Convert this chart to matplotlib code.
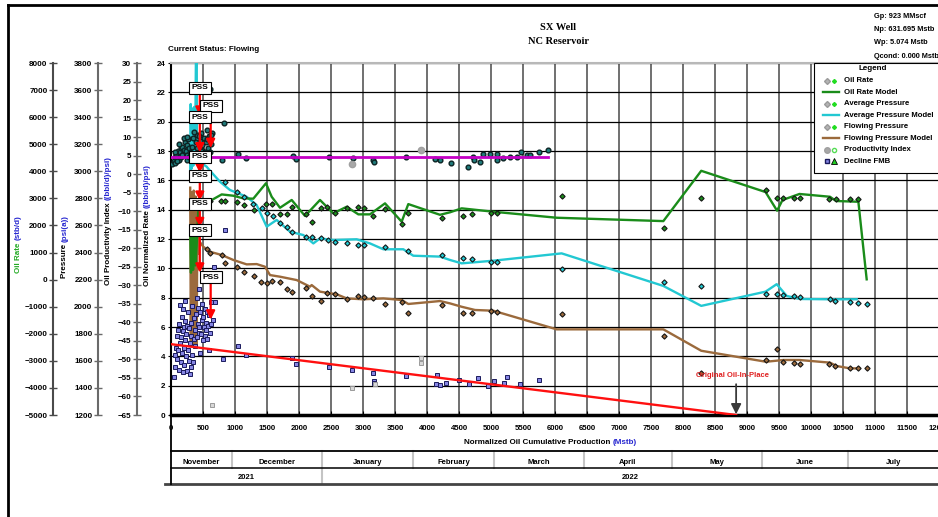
import numpy as np
import matplotlib
matplotlib.use("agg")
import matplotlib.pyplot as plt
from matplotlib.lines import Line2D
from matplotlib.patches import Rectangle

plt.rcParams['font.family'] = ['Liberation Sans', 'DejaVu Sans']
plt.rcParams['font.weight'] = 'bold'

W, H = 938, 517


def fx(px):
    return px / W


def fy(py):
    return 1 - py / H


# ---- series (x = normalized cumulative oil, Mstb ; y = normalized rate) ----
rate_model = [(300, 12.9), (312, 9.7), (328, 12.6), (345, 9.9), (362, 12.3), (380, 10.2),
              (400, 11.5), (425, 13.8), (453, 14.66), (609, 14.59), (792, 15.04), (974, 14.95),
              (1130, 14.77), (1286, 14.75), (1484, 15.8), (1573, 14.88), (1703, 14.13),
              (1886, 14.66), (2094, 13.57), (2328, 14.66), (2536, 13.75), (2745, 14.2),
              (2927, 13.68), (3109, 13.68), (3344, 14.43), (3604, 13.18), (3708, 14.38),
              (4203, 13.65), (4359, 13.82), (4542, 14.09), (5036, 13.86), (6026, 13.45),
              (7693, 13.22), (8285, 16.65), (9290, 15.2), (9470, 13.93), (9555, 14.66),
              (9820, 15.07), (10297, 14.88), (10391, 14.59), (10740, 14.54), (10870, 9.25)]

pavg_model = [(300, 16.6), (308, 21.2), (322, 16.8), (334, 20.9), (348, 17.0), (362, 21.0),
              (376, 17.3), (390, 24.6), (402, 24.6), (405, 17.3), (450, 17.2), (500, 17.1),
              (557, 16.93), (581, 16.8), (766, 15.9), (922, 15.34), (1182, 14.88), (1339, 14.31),
              (1495, 12.84), (1651, 13.3), (1859, 12.5), (2067, 12.27), (2224, 11.7),
              (2328, 12.04), (2536, 11.93), (2901, 11.98), (3109, 11.7), (3318, 11.3),
              (3630, 11.3), (3786, 10.86), (4203, 10.8), (4359, 10.57), (4542, 10.34),
              (5036, 10.52), (6104, 11.02), (7693, 8.8), (8285, 7.44), (9290, 8.41),
              (9464, 8.92), (9620, 8.12), (9828, 7.91), (10297, 7.89), (10714, 7.89)]

pwf_model = [(300, 15.5), (310, 5.0), (325, 15.2), (340, 4.8), (355, 15.3), (370, 4.7),
             (385, 14.9), (400, 4.6), (415, 14.6), (430, 11.0), (450, 11.8), (505, 11.47),
             (609, 11.13), (792, 10.91), (974, 10.57), (1182, 10.27), (1339, 10.29),
             (1469, 10.11), (1547, 9.54), (1703, 9.43), (1964, 9.2), (2172, 8.75),
             (2198, 8.86), (2328, 8.41), (2589, 8.23), (2745, 7.95), (3005, 7.89),
             (3318, 7.95), (3604, 7.84), (3708, 7.57), (4203, 7.77), (4359, 7.61),
             (4542, 7.38), (4750, 7.16), (5036, 7.11), (6026, 5.84), (7693, 5.84),
             (8285, 4.38), (9297, 3.63), (9568, 3.75), (9818, 3.75), (10297, 3.57),
             (10401, 3.34), (10609, 3.18), (10740, 3.18)]

rate_pts = [(470, 14.6), (609, 14.59), (776, 14.61), (844, 14.59), (1026, 14.54), (1146, 14.31),
            (1302, 13.97), (1484, 14.42), (1573, 14.42), (1703, 13.7), (1808, 13.7),
            (1895, 14.2), (2109, 13.68), (2208, 13.13), (2344, 14.13), (2432, 14.2),
            (2563, 13.74), (2745, 14.13), (2927, 14.2), (3021, 14.13), (3161, 13.59),
            (3344, 14.04), (3615, 13.02), (3708, 13.74), (4229, 13.41), (4567, 13.56),
            (4708, 13.7), (5000, 13.79), (5089, 13.74), (6115, 14.93), (7708, 12.72),
            (8281, 14.77), (9297, 15.34), (9464, 14.82), (9568, 14.82), (9740, 14.82),
            (9828, 14.82), (10286, 14.7), (10391, 14.7), (10609, 14.72), (10740, 14.72)]

pavg_pts = [(844, 15.9), (1026, 15.22), (1146, 14.88), (1286, 14.42), (1417, 14.09),
            (1495, 13.74), (1589, 13.56), (1703, 13.11), (1808, 12.84), (1895, 12.5),
            (2109, 12.16), (2208, 12.11), (2344, 12.04), (2458, 11.93), (2563, 11.81),
            (2745, 11.74), (2927, 11.59), (3021, 11.59), (3344, 11.43), (3708, 11.18),
            (4229, 10.91), (4567, 10.68), (4708, 10.63), (5000, 10.45), (5089, 10.41),
            (6115, 9.95), (7708, 9.09), (8281, 8.79), (9297, 8.27), (9464, 8.23),
            (9568, 8.18), (9740, 8.11), (9828, 8.07), (10297, 7.89), (10375, 7.77),
            (10609, 7.68), (10740, 7.61), (10870, 7.57)]

pwf_pts = [(557, 11.29), (609, 11.06), (792, 10.91), (844, 10.34), (1026, 10.11), (1146, 9.77),
           (1302, 9.48), (1406, 9.09), (1495, 9.02), (1583, 9.16), (1703, 9.09), (1808, 8.57),
           (1895, 8.41), (2109, 8.64), (2208, 8.13), (2344, 7.77), (2432, 8.3), (2570, 8.25),
           (2745, 7.89), (2927, 8.13), (3021, 8.02), (3161, 7.95), (3344, 7.55), (3615, 7.72),
           (3708, 6.97), (4239, 7.5), (4567, 6.97), (4708, 6.93), (5000, 7.09), (5089, 7.04),
           (6115, 6.88), (7703, 5.39), (8281, 2.84), (9297, 3.75), (9464, 4.48), (9568, 3.63),
           (9740, 3.57), (9828, 3.45), (10286, 3.45), (10375, 3.34), (10609, 3.23),
           (10740, 3.23), (10870, 3.23)]

pi_pts = [(20, 17.1), (40, 17.3), (55, 17.6), (70, 17.2), (85, 17.8), (100, 17.5), (110, 18.0),
          (120, 17.4), (135, 17.9), (150, 18.2), (160, 17.6), (175, 18.3), (190, 17.8),
          (200, 18.1), (215, 18.6), (230, 18.0), (245, 18.4), (255, 17.7), (270, 18.8),
          (285, 18.2), (300, 17.9), (60, 17.9), (90, 17.3), (130, 18.5), (170, 17.7),
          (210, 18.9), (250, 17.4), (280, 17.6), (330, 18.3), (350, 18.9), (370, 17.8),
          (390, 18.6), (410, 19.1), (430, 18.0), (450, 18.7), (470, 19.2), (490, 18.4),
          (510, 18.9), (530, 17.9), (545, 18.6), (560, 19.4), (580, 18.2), (600, 19.0),
          (620, 18.5), (640, 19.2), (360, 19.3), (400, 18.2), (440, 19.0), (480, 18.1),
          (520, 17.6), (565, 18.8), (605, 17.9), (630, 19.1), (250, 18.95), (470, 18.0),
          (828, 19.9), (609, 22.2), (797, 17.4), (1042, 17.8), (1172, 17.55), (1901, 17.65),
          (1948, 17.47), (2474, 17.57), (2839, 17.54), (3161, 17.38), (3177, 17.22),
          (3667, 17.57), (4125, 17.45), (4203, 17.38), (4375, 17.2), (4645, 16.93),
          (4714, 17.6), (4739, 17.38), (4828, 17.27), (4880, 17.79), (4984, 17.77),
          (5098, 17.77), (5098, 17.38), (5193, 17.5), (5297, 17.6), (5401, 17.6),
          (5474, 17.9), (5557, 17.7), (5609, 17.7), (5755, 17.95), (5896, 18.1)]
pi_grey = [(2828, 17.1), (3901, 18.1)]
pi_level = 17.6
pi_span = (0, 5890)

fmb_pts = [(47, 2.6), (60, 3.3), (70, 4.1), (80, 4.6), (90, 5.4), (95, 3.8), (105, 4.4),
           (110, 5.8), (120, 6.2), (125, 3.1), (135, 4.9), (140, 7.5), (150, 5.3), (155, 3.6),
           (165, 6.7), (170, 4.2), (180, 5.7), (187, 7.2), (190, 2.9), (200, 6.0), (205, 4.6),
           (210, 3.4), (215, 6.4), (219, 5.1), (225, 7.8), (230, 4.0), (240, 5.5), (250, 3.0),
           (255, 6.1), (265, 4.4), (270, 7.0), (280, 3.7), (285, 5.9), (295, 2.8), (300, 4.9),
           (310, 6.3), (315, 3.3), (320, 5.4), (330, 4.1), (335, 7.4), (345, 3.6), (355, 5.2),
           (360, 6.6), (370, 4.7), (380, 5.8), (390, 6.9), (400, 8.0), (405, 5.3), (415, 6.2),
           (420, 7.3), (430, 5.6), (440, 8.6), (445, 6.0), (455, 7.0), (460, 4.2), (470, 5.5),
           (480, 6.5), (490, 7.6), (500, 5.1), (505, 6.7), (515, 6.0), (525, 7.2), (530, 5.4),
           (540, 6.3), (550, 5.8), (560, 7.0), (570, 5.2), (580, 6.1), (590, 4.4), (600, 6.8),
           (610, 5.6), (620, 7.7), (630, 6.2), (650, 6.5), (677, 10.1), (688, 7.72),
           (808, 3.8), (844, 12.6), (1042, 4.7), (1167, 4.1), (1895, 3.9), (1948, 3.5),
           (2469, 3.3), (2833, 3.1), (3161, 2.85), (3172, 2.35), (3172, 2.2), (3667, 2.66),
           (4161, 2.75), (4136, 2.1), (4203, 2.05), (4300, 2.2), (4500, 2.4), (4650, 2.1),
           (4800, 2.5), (4950, 2.0), (5050, 2.3), (5200, 2.2), (5250, 2.6), (5450, 2.1),
           (5750, 2.4)]
fmb_grey = [(635, 0.68), (2823, 1.86), (3188, 2.09), (3901, 3.91), (3906, 3.57)]
fmb_line = [(0, 4.83), (8830, 0.0)]
ooip = 8830

pss_x = [450, 620, 450, 450, 450, 450, 450, 620]
pss_y = [22.3, 21.1, 20.3, 17.6, 16.3, 14.4, 12.6, 9.4]
pss_end = [20.4, 18.2, 17.9, 16.5, 14.6, 12.8, 9.7, 6.5]

month_edges = [0, 953, 2359, 3781, 5047, 6453, 7828, 9234, 10578, 12000]
months = ['November', 'December', 'January', 'February', 'March', 'April', 'May', 'June', 'July']
year_edges = [0, 2359, 12000]
years = ['2021', '2022']

GREEN = '#1a8c1a'
CYAN = '#22c8d2'
BROWN = '#9b6a3c'
BLUE = '#2626d0'


def xy(pts):
    a = np.array(pts, dtype=float)
    return a[:, 0], a[:, 1]


fig = plt.figure(figsize=(W / 100, H / 100), dpi=100)
ax = fig.add_axes([fx(171), fy(415), (939 - 171) / W, (415 - 63) / H])
ax.set_xlim(0, 12000)
ax.set_ylim(0, 24)
ax.set_xticks(np.arange(0, 12001, 500))
ax.set_yticks(np.arange(0, 25, 2))
ax.xaxis.grid(True, color='#707070', lw=1.4)
ax.yaxis.grid(True, color='black', lw=0.9)
ax.set_axisbelow(True)
ax.tick_params(axis='x', length=3, direction='in', labelsize=5.6, pad=7)
ax.tick_params(axis='y', length=2, labelsize=5.8, pad=2)
ax.spines['left'].set_linewidth(1.5)
ax.spines['bottom'].set_linewidth(2.5)
ax.spines['top'].set_color('#b8b8b8')
ax.spines['top'].set_linewidth(1.5)
ax.spines['right'].set_visible(False)

# model curves
for pts, c in [(pwf_model, BROWN), (pavg_model, CYAN), (rate_model, GREEN)]:
    x, y = xy(pts)
    ax.plot(x, y, color=c, lw=1.7, zorder=3)

# data points
dk = '#151515'
for pts, c in [(rate_pts, GREEN), (pavg_pts, CYAN), (pwf_pts, BROWN)]:
    x, y = xy(pts)
    ax.plot(x, y, ls='none', marker='D', ms=2.7, mfc=c, mec=dk, mew=0.8, zorder=4)

x, y = xy(pi_pts)
ax.plot(x, y, ls='none', marker='o', ms=3.4, mfc='#1f7a7a', mec='#0b2222', mew=1.0, zorder=4)
x, y = xy(pi_grey)
ax.plot(x, y, ls='none', marker='o', ms=4.5, mfc='#a8a8a8', mec='#a0a0a0', zorder=4)
ax.plot(pi_span, [pi_level, pi_level], color='#c400c4', lw=2, zorder=4)

x, y = xy(fmb_pts)
ax.plot(x, y, ls='none', marker='s', ms=2.7, mfc='#8686e4', mec='#1a1a5c', mew=0.7, zorder=4)
x, y = xy(fmb_grey)
ax.plot(x, y, ls='none', marker='s', ms=2.7, mfc='#d8d8d8', mec='#9a9a9a', mew=0.7, zorder=4)
x, y = xy(fmb_line)
ax.plot(x, y, color='#ff1010', lw=1.7, zorder=4)

ax.annotate('', xy=(ooip, 0.05), xytext=(ooip, 2.1),
            arrowprops=dict(arrowstyle='-|>,head_length=0.6,head_width=0.3', color='#3a3a3a',
                            lw=1.3, shrinkA=0, shrinkB=0), zorder=5)
ax.text(ooip - 50, 2.66, 'Original Oil-In-Place', color='#e02020', size=5.5,
        ha='center', va='center', zorder=5)

# PSS flags
for px_, py_, pe in zip(pss_x, pss_y, pss_end):
    ax.annotate('', xy=(px_, pe), xytext=(px_, py_),
                arrowprops=dict(arrowstyle='-|>,head_length=0.5,head_width=0.25', color='red',
                                lw=1.6, shrinkA=0, shrinkB=0), zorder=6)
for px_, py_ in zip(pss_x, pss_y):
    ax.text(px_, py_, 'PSS', size=6, ha='center', va='center', zorder=7,
            bbox=dict(boxstyle='square,pad=0.3', fc='white', ec='black', lw=0.8))


# extra left axes
def side_axis(xpx, lo, hi, step, col):
    a = fig.add_axes([fx(xpx), fy(415), 1e-4, (415 - 63) / H])
    a.set_ylim(lo, hi)
    a.set_yticks(np.arange(lo, hi + 1, step))
    a.set_xticks([])
    for s in ['top', 'right', 'bottom']:
        a.spines[s].set_visible(False)
    a.spines['left'].set_color(col)
    a.spines['left'].set_linewidth(1.5)
    a.tick_params(axis='y', direction='inout', length=6, width=1, color=col,
                  labelsize=5.8, pad=1)
    a.patch.set_visible(False)
    return a


side_axis(53, -5000, 8000, 1000, '#4a4a4a')
side_axis(98, 1200, 3800, 200, '#6a6a6a')
side_axis(137, -65, 30, 5, '#6a6a6a')


def split_label(xpx, ypx, first, second, c1, c2, size=5.8):
    fig.text(fx(xpx), fy(ypx), first, rotation=90, rotation_mode='anchor',
             ha='right', va='center', color=c1, size=size)
    fig.text(fx(xpx), fy(ypx), second, rotation=90, rotation_mode='anchor',
             ha='left', va='center', color=c2, size=size)


split_label(18, 240, 'Oil Rate ', '(stb/d)', '#22aa22', BLUE)
split_label(65, 242, 'Pressure ', '(psi(a))', 'black', BLUE)
split_label(108, 200, 'Oil Productivity Index ', '((bbl/d)/psi)', 'black', BLUE)
split_label(147, 208, 'Oil Normalized Rate ', '((bbl/d)/psi)', 'black', BLUE)

# x label
fig.text(fx(613), fy(442), 'Normalized Oil Cumulative Production ', ha='right', va='center',
         size=5.8)
fig.text(fx(613), fy(442), '(Mstb)', ha='left', va='center', size=5.8, color=BLUE)

# calendar strip
tab = fig.add_axes([fx(171), fy(484), (939 - 171) / W, (484 - 451) / H])
tab.set_xlim(0, 12000)
tab.set_ylim(0, 1)
tab.axis('off')
mid = (484 - 468) / (484 - 451)
for e in month_edges[1:-1]:
    tab.plot([e, e], [mid, 1], color='#c4c4c4', lw=1.5, clip_on=False)
for e in year_edges[1:-1]:
    tab.plot([e, e], [0, mid], color='#c4c4c4', lw=1.5, clip_on=False)
for i, m in enumerate(months):
    tab.text((month_edges[i] + month_edges[i + 1]) / 2, 0.66, m, ha='center', va='center',
             size=5.5)
for i, yr in enumerate(years):
    tab.text((year_edges[i] + year_edges[i + 1]) / 2, 0.21, yr, ha='center', va='center',
             size=5.5)

for y0, lw in [(451, 1.3), (468, 1.1)]:
    fig.add_artist(Line2D([fx(171), 1], [fy(y0), fy(y0)], color='black', lw=lw))
fig.add_artist(Line2D([fx(165), 1], [fy(484), fy(484)], color='#444444', lw=2))
fig.add_artist(Line2D([fx(171), fx(171)], [fy(415), fy(484)], color='black', lw=1.3))

# page frame
fig.add_artist(Line2D([fx(8), 1], [fy(5), fy(5)], color='black', lw=2))
fig.add_artist(Line2D([fx(8), fx(8)], [fy(5), 0], color='black', lw=2))

# headings
fig.text(fx(558), fy(28), 'SX Well', family='Liberation Serif', weight='bold', size=7.5,
         ha='center', va='center')
fig.text(fx(558), fy(42), 'NC Reservoir', family='Liberation Serif', weight='bold', size=7.5,
         ha='center', va='center')
fig.text(fx(168), fy(50), 'Current Status: Flowing', size=5.8, ha='left', va='center')
for i, s in enumerate(['Gp: 923 MMscf', 'Np: 631.695 Mstb', 'Wp: 5.074 Mstb',
                       'Qcond: 0.000 Mstb']):
    fig.text(fx(874), fy(16 + i * 13.5), s, size=5.3, ha='left', va='center')

# legend box
fig.add_artist(Rectangle((fx(814), fy(173)), fx(960) - fx(814), fy(63) - fy(173),
                         transform=fig.transFigure, fc='white', ec='black', lw=0.8, zorder=8))
fig.text(fx(873), fy(69), 'Legend', size=5.8, ha='center', va='center', zorder=9)
entries = [('Oil Rate', 'pt'), ('Oil Rate Model', GREEN), ('Average Pressure', 'pt'),
           ('Average Pressure Model', CYAN), ('Flowing Pressure', 'pt'),
           ('Flowing Pressure Model', BROWN), ('Productivity Index', 'pi'),
           ('Decline FMB', 'fmb')]
for i, (name, kind) in enumerate(entries):
    yy = fy(80.7 + i * 11.5)
    if kind == 'pt':
        fig.add_artist(Line2D([fx(827)], [yy], marker='D', ms=3, mfc='#b4b4b4', mec='#9a9a9a',
                              transform=fig.transFigure, zorder=9))
        fig.add_artist(Line2D([fx(834)], [yy], marker='D', ms=2, mfc='#22dd22', mec='#22dd22',
                              transform=fig.transFigure, zorder=9))
    elif kind == 'pi':
        fig.add_artist(Line2D([fx(827)], [yy], marker='o', ms=4, mfc='#a8a8a8', mec='#a0a0a0',
                              transform=fig.transFigure, zorder=9))
        fig.add_artist(Line2D([fx(834)], [yy], marker='o', ms=3, mfc='white', mec='#55dd55',
                              transform=fig.transFigure, zorder=9))
    elif kind == 'fmb':
        fig.add_artist(Line2D([fx(827)], [yy], marker='s', ms=3.5, mfc='#8686e4', mec='#1a1a5c',
                              transform=fig.transFigure, zorder=9))
        fig.add_artist(Line2D([fx(834)], [yy], marker='^', ms=4, mfc='#22cc22', mec='black',
                              mew=0.6, transform=fig.transFigure, zorder=9))
    else:
        fig.add_artist(Line2D([fx(823), fx(839)], [yy, yy], color=kind, lw=1.7,
                              transform=fig.transFigure, zorder=9))
    fig.text(fx(844), yy, name, size=5.6, ha='left', va='center', zorder=9)

fig.savefig('out.png', dpi=100)
